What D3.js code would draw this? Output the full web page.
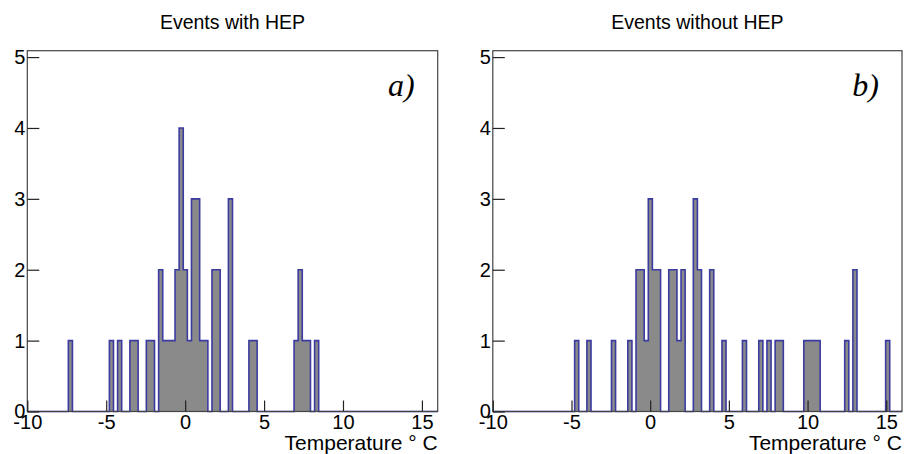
<!DOCTYPE html>
<html>
<head>
<meta charset="utf-8">
<script src="https://cdn.jsdelivr.net/npm/d3@7"></script>
<style>
  body { margin: 0; background: #fff; }
  svg { display: block; font-family: "Liberation Sans", Arial, Helvetica, sans-serif; }
</style>
</head>
<body>
<script>
// histogram binning (100 bins from -10 to 16 C)
var nBins = 100, tMin = -10, tMax = 16;
var binWidth = (tMax - tMin) / nBins;

// lower bin edges (deg C) and entries, events with HEP
var hepTemps  = [-7.40, -4.80, -4.28, -3.50, -3.24, -2.46, -2.20, -1.68, -1.42, -1.16,
                 -0.90, -0.64, -0.38, -0.12, 0.14, 0.40, 0.66, 0.92, 1.18, 1.70,
                 1.96, 2.74, 4.04, 4.30, 6.90, 7.16, 7.42, 7.68, 8.20];
var hepCounts = [1, 1, 1, 1, 1, 1, 1, 2, 1, 1,
                 1, 2, 4, 2, 1, 3, 3, 1, 1, 2,
                 2, 3, 1, 1, 1, 2, 1, 1, 1];

// events without HEP
var noHepTemps  = [-4.80, -4.02, -2.46, -1.42, -0.90, -0.64, -0.38, -0.12, 0.14, 0.40,
                   1.18, 1.44, 1.70, 1.96, 2.74, 3.00, 3.78, 4.56, 5.86, 6.90,
                   7.42, 7.94, 8.20, 9.76, 10.02, 10.28, 10.54, 12.36, 12.88, 14.96];
var noHepCounts = [1, 1, 1, 1, 2, 2, 1, 3, 2, 2,
                   2, 2, 1, 2, 3, 2, 2, 1, 1, 1,
                   1, 1, 1, 1, 1, 1, 1, 1, 2, 1];

var xMajor = [-10, -5, 0, 5, 10, 15];
var xMinor = d3.range(-9, 16);
var yMajor = [0, 1, 2, 3, 4, 5];
var yMinor = d3.range(0.2, 5.01, 0.2);
var yMax = 5.09;

var titles = ["Events with HEP", "Events without HEP"];
var tags = ["a)", "b)"];
var xTitle = "Temperature \u00b0 C";

var W = 905, H = 454;
var svg = d3.select("body").append("svg")
    .attr("width", W)
    .attr("height", H);

function fillBins(temps, counts) {
    var arr = d3.range(nBins).map(function(i) { return 0; });
    temps.forEach(function(t, k) {
        var i = Math.round((t - tMin) / binWidth);
        arr[i] += counts[k];
    });
    return arr;
}

// plain hyphen like ROOT, not the unicode minus
function plain(d) { return String(d); }

function drawPanel(left, right, top, bottom, temps, counts, title, tag) {
    var x = d3.scaleLinear().domain([tMin, tMax]).range([left, right]);
    var y = d3.scaleLinear().domain([0, yMax]).range([bottom, top]);

    var bins = fillBins(temps, counts);
    var pts = [{t: tMin, c: 0}];
    bins.forEach(function(c, i) { pts.push({t: tMin + i * binWidth, c: c}); });
    pts.push({t: tMax, c: 0});

    var area = d3.area()
        .x(function(d) { return x(d.t); })
        .y0(y(0))
        .y1(function(d) { return y(d.c); })
        .curve(d3.curveStepAfter);
    var line = d3.line()
        .x(function(d) { return x(d.t); })
        .y(function(d) { return y(d.c); })
        .curve(d3.curveStepAfter);

    svg.append("path")
        .datum(pts)
        .attr("d", area)
        .style("fill", "#8a8a8a");
    svg.append("path")
        .datum(pts)
        .attr("d", line)
        .style("fill", "none")
        .style("stroke", "#3b3ba0")
        .style("stroke-width", "1.6px");

    // frame
    svg.append("rect")
        .attr("x", left).attr("y", top)
        .attr("width", right - left).attr("height", bottom - top)
        .style("fill", "none")
        .style("stroke", "#444")
        .style("stroke-width", "1.2px");

    // x axis, ticks pointing up
    var xa = svg.append("g").attr("transform", "translate(0," + bottom + ")");
    xa.call(d3.axisBottom(x).tickValues(xMinor).tickSize(-6).tickFormat(""));
    xa.call(d3.axisBottom(x).tickValues(xMajor).tickSize(-11).tickPadding(3).tickFormat(plain));
    xa.selectAll(".domain").remove();
    xa.selectAll("line").style("stroke", "#222").style("stroke-width", "1.2px");
    xa.selectAll("text")
        .style("font-size", "20px")
        .style("fill", "#000")
        .style("font-family", "'Liberation Sans', Arial, sans-serif");

    // y axis, ticks pointing right
    var ya = svg.append("g").attr("transform", "translate(" + left + ",0)");
    ya.call(d3.axisLeft(y).tickValues(yMinor).tickSize(-6).tickFormat(""));
    ya.call(d3.axisLeft(y).tickValues(yMajor).tickSize(-12).tickPadding(2).tickFormat(plain));
    ya.selectAll(".domain").remove();
    ya.selectAll("line").style("stroke", "#222").style("stroke-width", "1.2px");
    ya.selectAll("text")
        .style("font-size", "20px")
        .style("fill", "#000")
        .style("font-family", "'Liberation Sans', Arial, sans-serif");

    svg.append("text")
        .attr("x", (left + right) / 2)
        .attr("y", 29)
        .style("text-anchor", "middle")
        .style("font-size", "19.5px")
        .text(title);

    svg.append("text")
        .attr("x", right)
        .attr("y", 450)
        .style("text-anchor", "end")
        .style("font-size", "21px")
        .text(xTitle);

    svg.append("text")
        .attr("x", right - 23)
        .attr("y", 96)
        .style("text-anchor", "end")
        .style("font-family", "'Liberation Serif', 'Times New Roman', serif")
        .style("font-style", "italic")
        .style("font-size", "32px")
        .text(tag);
}

drawPanel(27.3, 437.7, 50.7, 411.5, hepTemps, hepCounts, titles[0], tags[0]);
drawPanel(492.8, 902, 50.7, 411.5, noHepTemps, noHepCounts, titles[1], tags[1]);
</script>
</body>
</html>
